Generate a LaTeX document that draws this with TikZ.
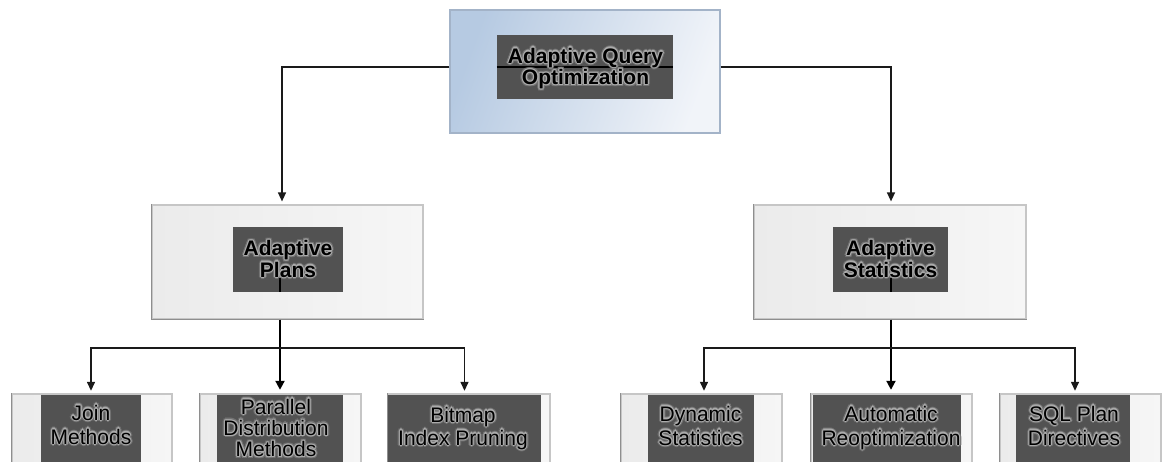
\documentclass[tikz,border=0pt]{standalone}
\usepackage{fontspec}
\setmainfont{Liberation Sans}
\usetikzlibrary{arrows.meta}
\definecolor{blueA}{HTML}{B6CAE2}
\definecolor{blueB}{HTML}{F1F4F9}
\definecolor{blueEdge}{HTML}{A3B3C8}
\definecolor{greyA}{HTML}{EBEBEB}
\definecolor{greyB}{HTML}{F6F6F6}
\definecolor{greyEdge}{HTML}{C6C6C6}
\definecolor{shadowEdge}{HTML}{8E8E8E}
\definecolor{darkFill}{HTML}{525252}
\definecolor{glowOut}{HTML}{727272}
\definecolor{glowIn}{HTML}{ABABAB}
\definecolor{lineC}{HTML}{1A1A1A}
\newcommand{\gcopy}[4]{\rlap{\hspace*{#1}\raisebox{#2}{\color{#3}\begin{tabular}[t]{@{}c@{}}#4\end{tabular}}}}
\newcommand{\gring}[4]{%
  \gcopy{#1}{0pt}{#3}{#4}\gcopy{-#1}{0pt}{#3}{#4}\gcopy{0pt}{#1}{#3}{#4}\gcopy{0pt}{-#1}{#3}{#4}%
  \gcopy{#2}{#2}{#3}{#4}\gcopy{-#2}{#2}{#3}{#4}\gcopy{#2}{-#2}{#3}{#4}\gcopy{-#2}{-#2}{#3}{#4}}
\newcommand{\glowtext}[1]{\gring{2.3pt}{1.6pt}{glowOut}{#1}\gring{1.1pt}{0.8pt}{glowIn}{#1}\begin{tabular}[t]{@{}c@{}}#1\end{tabular}}
\begin{document}
\begin{tikzpicture}[x=1pt,y=-1pt,
  topbox/.style={draw=blueEdge, line width=1.2pt, left color=blueA, right color=blueB, shading angle=70, minimum width=#1, minimum height=123pt, inner sep=0pt},
  midbox/.style={draw=greyEdge, line width=1.2pt, left color=greyA, right color=greyB, minimum width=#1, inner sep=0pt},
  darkbox/.style={fill=darkFill, minimum width=#1, inner sep=0pt},
  shadowline/.style={draw=shadowEdge, line width=1.3pt},
  bold label/.style={anchor=base, inner sep=0pt, font=\fontsize{21}{21}\selectfont\bfseries},
  plain label/.style={anchor=base, inner sep=0pt, font=\fontsize{21}{#1}\selectfont},
  conn/.style={draw=lineC, line width=1.4pt, -{Triangle[width=8pt,length=9pt]}, shorten >=4pt},
  mainconn/.style={draw=black, line width=2pt, -{Triangle[width=9pt,length=9pt]}, shorten >=5pt},
  crossline/.style={draw=black, line width=2pt}]
\useasboundingbox (0,0) rectangle (1163,461);
\clip (0,0) rectangle (1163,461);
\fill[white] (0,0) rectangle (1163,461);

% ---------- top ----------
\node[topbox=270pt] (topout) at (585,71.5) {};
\node[darkbox=176pt, minimum height=64pt] (topin) at (585,67) {};
\draw[crossline] (topin.west) -- (topin.east);
\node[bold label] (toptxt) at (585.5,63) {\glowtext{Adaptive Query\\Optimization}};

% ---------- middle ----------
\node[midbox=271pt, minimum height=114pt] (mlout) at (287.5,262) {};
\draw[shadowline] (mlout.north west) -- (mlout.south west) -- (mlout.south east);
\node[darkbox=110pt, minimum height=65pt] (mlin) at (288,259.5) {};
\node[bold label] (mltxt) at (288,255.5) {\glowtext{Adaptive\\Plans}};

\node[midbox=272pt, minimum height=114pt] (mrout) at (890,262) {};
\draw[shadowline] (mrout.north west) -- (mrout.south west) -- (mrout.south east);
\node[darkbox=115pt, minimum height=65pt] (mrin) at (890.5,259.5) {};
\node[bold label] (mrtxt) at (890.5,255.5) {\glowtext{Adaptive\\Statistics}};

% ---------- bottom ----------
\foreach \n/\ox/\ow/\ix/\iw in {b1/92/160/91/100, b2/280.5/161/280/126, b3/469/162/464.5/153,
                                b4/701.5/161/701/106, b5/891.5/161/887/148, b6/1080.5/161/1073/114}{
  \node[midbox=\ow pt, minimum height=81pt] (\n out) at (\ox,434.5) {};
  \draw[shadowline] (\n out.north west) -- (\n out.south west);
  \node[darkbox=\iw pt, minimum height=80pt] (\n in) at (\ix,435) {};
}
\node[plain label=24] (t1) at (91,420) {\glowtext{Join\\Methods}};
\node[plain label=20] (t2) at (276,414) {\glowtext{Parallel\\Distribution\\Methods}};
\node[plain label=23] (t3) at (463,422) {\glowtext{Bitmap\\Index Pruning}};
\node[plain label=24] (t4) at (700.5,421) {\glowtext{Dynamic\\Statistics}};
\node[plain label=24] (t5) at (891,421) {\glowtext{Automatic\\Reoptimization}};
\node[plain label=24] (t6) at (1074,421) {\glowtext{SQL Plan\\Directives}};

% ---------- connectors ----------
\draw[conn, shorten >=3pt] (topout.west |- topin.center) -| ([xshift=-5.5pt]mlout.north);
\draw[conn, shorten >=3pt] (topout.east |- topin.center) -| ([xshift=1pt]mrout.north);

% left subtree
\coordinate (mlstub) at (280,278);
\draw[crossline] (mlstub) -- (mlstub |- mlin.south);
\draw[mainconn] (mlout.south -| b2in.north) -- (b2in.north);
\coordinate (brL) at (280,348);
\draw[conn] (brL) -| (b1in.north);
\draw[conn] (brL) -| (b3in.north);

% right subtree
\coordinate (mrstub) at (891,278);
\draw[crossline] (mrstub) -- (mrstub |- mrin.south);
\draw[mainconn] (mrout.south -| mrstub) -- (mrstub |- b5in.north);
\coordinate (brR) at (891,348);
\draw[conn] (brR) -| ([xshift=3pt]b4in.north);
\draw[conn] (brR) -| ([xshift=2pt]b6in.north);
\end{tikzpicture}
\end{document}
